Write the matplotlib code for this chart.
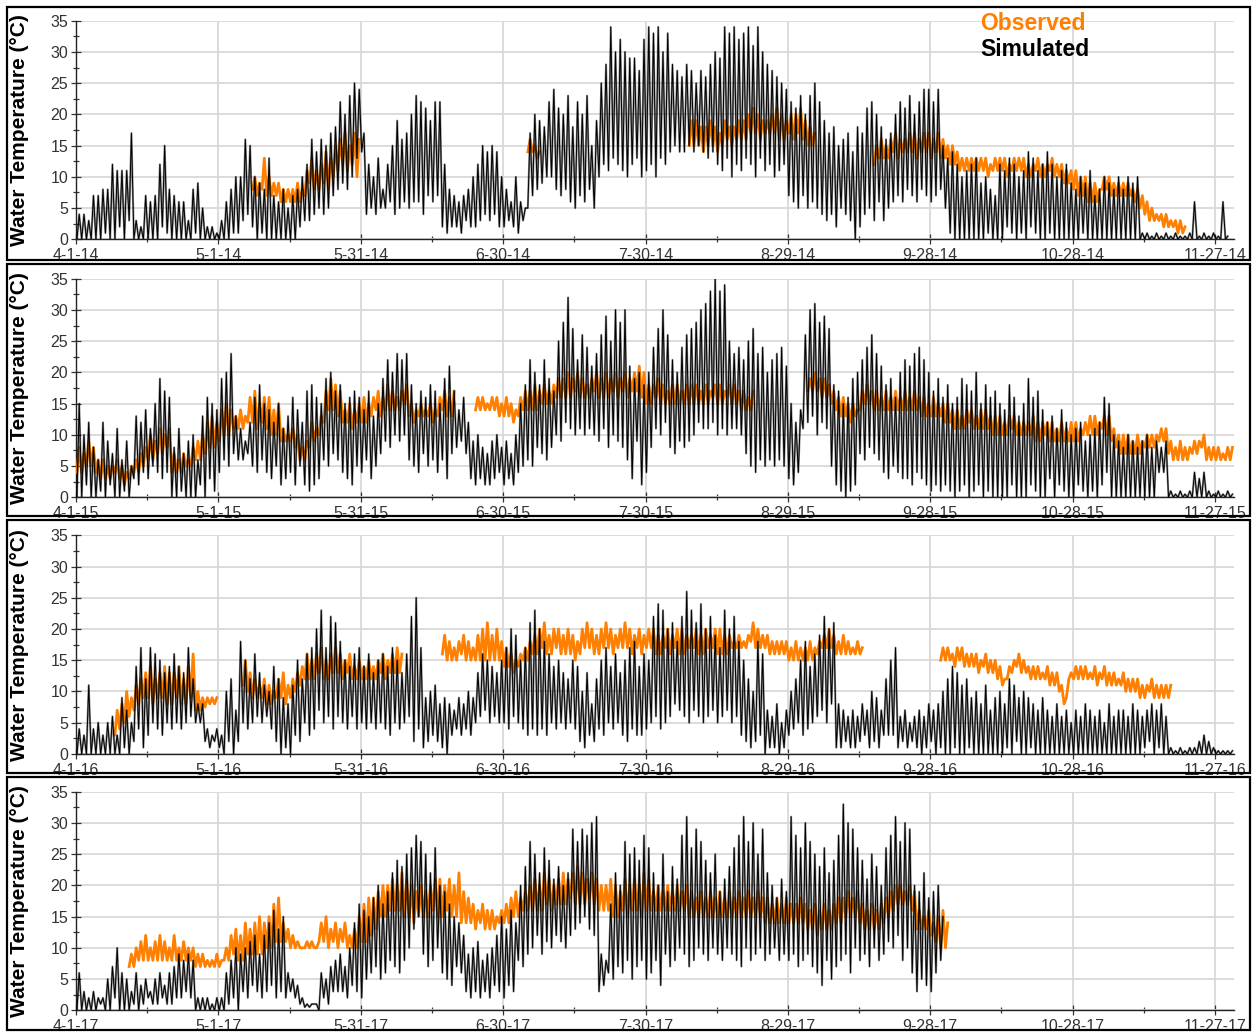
import numpy as np
import matplotlib
matplotlib.use('Agg')
import matplotlib.pyplot as plt
from matplotlib.patches import Rectangle

plt.rcParams['font.family'] = ['Liberation Sans', 'DejaVu Sans']

years = ['14', '15', '16', '17']
tick_days = [0, 30, 60, 90, 120, 150, 180, 210, 240]
tick_dates = ['4-1', '5-1', '5-31', '6-30', '7-30', '8-29', '9-28', '10-28', '11-27']

# daily max / min water temperature, day 0 = April 1
sim14_hi = [4,4,3,7,7,8,8,12,11,11, 11,17,3,2,7,6,7,12,15,8, 7,6,6,3,8,9,5,2,2,1,
            3,6,8,10,10,16,15,10,9,8, 13,7,6,8,5,7,8,10,12,16, 14,16,15,17,18,22,20,23,25,24,
            17,12,10,13,8,12,15,19,16,17, 20,23,22,21,19,22,22,12,8,7, 6,7,8,10,12,15,14,15,14,10,
            8,6,10,6,5,17,20,19,18,22, 24,21,20,23,18,22,20,23,15,19, 25,28,34,30,32,30,29,29,27,32,
            34,33,34,30,33,28,27,26,28,27, 25,27,26,28,30,29,34,33,34,32, 33,34,31,34,30,28,27,26,25,24,
            22,21,23,20,23,25,22,19,17,18, 15,16,17,14,18,17,21,22,20,18, 16,17,20,22,21,23,20,22,24,24,
            22,24,15,13,14,12,10,11,12,13, 9,10,8,7,12,11,13,12,10,11, 14,13,11,12,14,12,10,11,12,9,
            8,10,9,11,7,8,10,9,8,10, 8,10,9,10,1,1,0.5,1,0.5,1, 0.5,1,0.5,0.5,1,6,0.5,1,0.5,1,
            0.5,6,0.5]
sim14_lo = [0,0,0,0,0,0,1,0,0,2, 0,3,0,0,0,0,0,0,2,1, 0,0,0,0,0,1,0,0,0,0,
            0,0,0,1,1,3,4,2,0,1, 0,0,0,0,0,0,0,2,3,3, 4,5,4,5,7,8,9,8,10,13,
            14,4,5,4,5,5,6,4,5,6, 5,6,6,4,7,6,7,2,1,2, 2,1,3,2,2,3,4,3,4,2,
            2,3,2,1,3,5,7,8,9,10, 10,8,7,8,6,5,7,6,8,5, 10,12,11,13,12,11,10,12,13,10,
            11,12,10,13,12,14,15,14,14,15, 14,15,14,13,14,12,11,13,10,12, 11,13,12,10,13,11,12,10,11,12,
            7,6,5,7,5,6,5,4,3,4, 2,5,4,3,0,2,4,5,3,6, 3,5,6,7,6,8,7,6,8,7,
            6,7,8,5,1,0,0,0,0,0, 0,0,1,0,0,0,2,1,0,1, 0,2,1,0,0,1,0,0,0,0,
            0,0,1,0,0,0,0,0,0,0, 0,0,0,0,0,0,0,0,0,0, 0,0,0,0,0,0,0,0,0,0,
            0,0,0]
obs14_start = 37
obs14_hi = ([10,9,13,10,9,9,8,8,8,9,8,11,13,11,12,14,13,15,16,17,15,17,16] + [None] * 35 +
            [16,15,14] + [None] * 31 +
            [19,19,18,18,19,18,17,19,18,18, 19,19,20,21,20,19,19,20,21,20, 19,20,20,21,19,18,17] + [None] * 12 +
            [15,16,15,16,17,16,16,17,17,16,17,17, 16,17,16,15,15,14,13,13,13,13,
             13,13,12,13,13,13,12,13,13,13, 12,12,13,12,12,13,12,12,11,11,
             11,10,10,9,9,8,10,10,9,9, 9,9,8,8,7,6,5,4,4,4, 3,3,3,2])
obs14_lo = ([8,7,8,7,7,7,6,6,6,6,6,7,9,8,8,9,8,10,11,12,11,12,10] + [None] * 35 +
            [14,14,13] + [None] * 31 +
            [15,15,15,14,15,15,14,15,16,15, 16,16,16,17,17,16,17,17,17,16, 16,17,16,17,16,15,15] + [None] * 12 +
            [12,13,13,13,14,13,14,14,14,13,14,14, 13,14,13,13,12,12,11,11,11,11,
             11,11,10,11,11,11,10,11,11,11, 10,10,11,10,10,11,10,10,9,9,
             8,7,7,6,6,6,8,8,7,7, 7,7,7,6,5,4,3,3,3,2, 2,2,1,1])

sim15_hi = [15,10,12,8,6,12,9,7,11,6, 9,5,13,12,14,11,15,19,17,16, 8,11,7,9,10,6,13,16,15,14,
            19,20,23,13,11,9,12,16,18,15, 14,12,15,11,13,16,14,12,17,18, 16,15,19,20,17,18,15,16,17,16,
            14,17,13,15,19,22,20,23,22,23, 18,15,17,16,18,17,15,19,21,17, 14,16,12,9,10,8,7,9,10,8,
            9,7,10,15,18,22,20,18,22,19, 17,25,28,32,27,22,26,24,21,23, 26,29,25,30,28,30,21,19,20,18,
            20,24,27,30,26,22,20,24,26,27, 28,30,31,33,35,33,34,25,23,24, 22,25,27,23,24,20,22,23,24,21,
            15,12,14,26,30,31,28,29,27,18, 17,15,16,19,20,22,24,26,23,21, 18,19,16,20,22,21,23,24,22,20,
            17,19,16,18,15,16,19,18,17,20, 15,18,16,17,15,14,18,16,13,15, 19,16,17,14,12,13,11,14,12,10,
            11,12,9,10,11,12,16,15,10,9, 8,10,9,8,9,10,8,9,8,9, 1,0.5,1,0.5,1,4,3,4,1,0.5,
            1,0.5,1,0.5]
sim15_lo = [0,0,2,0,0,1,0,2,0,0, 1,0,3,2,4,3,5,4,3,4, 0,0,1,0,0,0,2,0,3,1,
            4,6,5,7,6,6,7,5,4,6, 4,3,5,2,3,4,2,5,2,1, 2,3,6,5,7,6,4,3,2,5,
            4,6,3,5,7,9,8,10,9,10, 6,5,4,7,5,6,4,6,3,7, 8,9,7,3,2,3,2,2,3,4,
            2,3,2,4,5,6,5,8,7,6, 8,10,9,12,11,10,11,10,11,10, 9,11,8,10,9,8,6,3,9,2,
            4,8,11,10,12,8,7,9,8,9, 10,12,11,11,12,10,11,10,11,11, 10,7,5,4,6,5,6,5,6,5,
            3,2,4,11,12,13,10,12,11,5, 2,1,0,1,2,7,6,8,7,6, 4,3,5,4,3,3,2,4,3,2,
            1,2,1,2,1,0,1,2,0,1, 2,0,1,0,0,0,0,2,0,0, 0,2,1,0,0,3,0,2,1,0,
            0,2,1,0,1,0,2,4,0,0, 0,0,0,0,0,0,0,0,4,4, 0,0,0,0,0,0,0,0,0,0,
            0,0,0,0]
obs15_start = 0
obs15_hi = ([8,7,9,8,6,6,5,5,6,5, 4,5,6,7,8,10,9,11,10,11, 7,6,7,6,8,9,10,12,13,12,
             14,15,14,13,14,13,16,17,15,16, 16,14,15,11,10,11,10,8,9,12, 11,13,17,19,18,17,14,15,14,15,
             16,15,16,17,16,18,17,16,17,18, 15,14,15,14,15,14,16,17,16,17] + [None] * 4 +
            [16,16,15,16,16,15, 16,15,14,16,17,17,18,17,18,17, 18,19,19,20,19,20,19,18,19,20,
             19,20,19,20,19,20,19,20,21,20, 18,18,19,18,17,18,18,17,18,18, 18,17,18,17,18,18,17,18,18,17,
             17,16,17] + [None] * 11 +
            [19,20,19,19,18,17, 16,16,15,15,14,17,18,17,17,16, 17,16,17,16,17,16,17,16,16,15,
             16,15,15,15,14,14,13,14,14,13, 14,14,13,13,13,12,13,13,12,12, 12,13,12,12,12,12,11,12,11,12,
             12,11,12,13,13,12,13,13,11,10, 10,10,9,10,9,10,10,10,11,11, 9,8,9,8,8,9,9,10,8,8,
             8,7,8,8])
obs15_lo = ([4,4,5,5,4,3,3,3,4,3, 2,3,4,4,5,6,6,7,7,8, 4,4,4,5,5,6,6,7,8,8,
             9,10,10,11,11,11,12,12,11,12, 11,10,10,9,9,9,8,6,6,8, 9,10,12,14,14,13,12,12,11,12,
             12,12,13,14,13,14,14,14,14,15, 13,12,13,13,13,12,13,14,13,13] + [None] * 4 +
            [14,14,14,14,14,13, 13,13,12,13,14,14,14,14,15,15, 15,16,16,16,16,17,16,16,16,17,
             16,16,16,17,16,17,16,17,17,16, 15,15,16,15,15,15,15,15,15,15, 15,15,15,15,16,15,15,16,15,15,
             14,14,14] + [None] * 11 +
            [17,17,17,16,16,15, 14,13,13,12,13,14,15,15,14,14, 14,14,14,14,14,14,14,14,13,13,
             13,13,13,12,12,11,11,11,12,11, 11,11,11,10,10,10,10,11,10,10, 10,10,9,9,10,9,9,9,9,9,
             9,9,10,10,10,10,11,10,9,8, 7,7,7,7,7,8,8,8,9,9, 7,6,6,6,6,7,7,8,6,6,
             6,6,6,6])

sim16_hi = [4,3,11,4,5,3,5,6,3,9, 7,5,14,17,12,17,16,15,13,14, 16,14,13,17,12,8,8,4,3,4,
            3,10,12,7,18,15,12,16,13,11, 10,14,12,9,8,11,15,12,16,17, 20,23,17,22,21,18,15,14,16,17,
            14,16,13,15,16,14,17,15,13,16, 22,25,17,9,10,11,8,9,8,7, 9,8,10,9,13,16,15,14,13,15,
            17,20,19,15,17,21,23,20,18,16, 14,15,13,12,15,14,10,13,8,12, 15,17,14,16,13,15,17,18,14,16,
            15,22,24,23,20,21,18,22,26,23, 21,24,20,22,19,17,23,20,22,18, 15,12,10,18,16,7,6,8,5,7,
            10,12,15,18,14,16,19,22,20,21, 8,7,6,7,6,8,7,10,9,7, 12,15,17,6,7,5,6,7,6,8,
            7,8,10,12,14,13,11,12,9,10, 8,11,7,9,10,8,12,11,9,10, 9,8,7,9,7,6,8,6,7,5,
            7,6,8,7,6,7,5,8,6,7, 7,6,8,7,6,7,8,7,8,6, 1,0.5,1,0.5,1,1,2,3,2,1,
            0.5,0.5,0.5,0.5]
sim16_lo = [0,0,0,0,0,0,0,0,0,0, 1,0,2,4,1,3,5,4,3,5, 4,5,4,5,6,5,5,2,1,2,
            1,0,2,0,2,5,4,5,6,5, 6,4,2,0,1,0,3,2,5,3, 4,7,5,6,4,6,5,4,6,4,
            5,4,5,4,5,4,3,5,4,5, 6,2,4,1,2,3,2,1,0,3, 4,3,4,3,5,6,7,5,6,5,
            5,4,6,5,4,3,4,3,4,3, 5,4,5,4,5,4,2,1,3,2, 4,3,5,4,5,3,2,4,3,3,
            4,5,6,4,5,6,8,7,6,5, 7,6,5,6,7,5,6,7,5,6, 3,2,1,2,3,0,1,1,0,1,
            3,4,5,3,4,5,6,7,5,8, 1,1,2,1,1,2,3,1,2,1, 3,3,3,1,2,1,2,1,0,1,
            2,0,1,0,0,1,0,0,1,0, 0,0,0,0,0,0,1,0,2,0, 0,1,0,0,0,0,0,0,0,0,
            0,0,0,0,0,0,0,0,0,0, 0,0,0,0,0,1,2,0,1,0, 0,0,0,0,0,0,0,0,0,0,
            0,0,0,0]
obs16_start = 8
obs16_hi = ([7,8,10,9,11,12,13,14,12,13,14,13,13,14,12,14,16,10,9,9,9,9] + [None] * 5 +
            [15,13,12,11,12,11,10,12,13,11, 12,13,14,16,15,16,17,15,16,17, 16,15,16,14,15,14,15,14,15,16,
             15,16,17,16] + [None] * 8 +
            [19,18,17,18,19,18,17,19,20,21, 19,20,18,17,16,15,16,17,18,19, 20,21,19,20,20,19,20,19,18,20,
             21,20,19,20,21,20,19,20,21,20, 19,20,19,20,20,19,19,20,19,20, 20,19,19,20,19,20,19,20,20,19,
             19,18,19,18,19,21,20,19,19,18, 18,18,18,17,18,17,17,18,17,18, 19,20,19,18,19,18,17,18,17] + [None] * 16 +
            [17,17,16,17,17,16,16,16,15,16, 15,15,14,12,14,15,16,15,14,14, 14,13,14,13,13,11,9,13,14,14,
             14,13,14,13,14,13,13,12,13,12, 12,12,11,11,12,11,11,11,11])
obs16_lo = ([3,4,5,6,7,8,9,9,8,9,9,8,8,9,8,8,9,7,7,7.5,8,8] + [None] * 5 +
            [11,10,9,9,9,8,8,9,9,8, 9,10,11,12,12,12,13,12,12,13, 13,12,13,12,12,12,12,12,12,13,
             12,13,13,13] + [None] * 8 +
            [16,15,15,15,16,15,15,15,15,15, 15,15,15,14,14,13,14,15,15,16, 16,17,16,16,17,16,16,16,15,16,
             17,17,16,16,17,17,16,17,17,17, 16,17,16,17,17,16,16,17,16,17, 16,16,17,17,16,16,17,17,16,16,
             16,17,17,17,17,18,17,17,17,16, 16,16,16,15,15,15,15,15,15,16, 17,17,17,16,16,16,16,16,16] + [None] * 16 +
            [15,15,15,14,15,14,14,14,13,14, 13,13,12,11,12,13,14,13,13,12, 12,12,12,11,11,10,8,12,12,12,
             12,12,12,11,12,11,11,11,11,10, 10,10,9,9,10,9,9,9,9])

sim17_hi = [6,3,2,3,2,2,5,7,10,6, 5,3,6,4,5,3,5,6,4,6, 7,9,8,9,8,2,2,2,1,2,
            2,6,8,10,9,10,11,12,9,12, 14,16,13,15,6,5,4,2,1,1, 1,6,5,7,8,9,7,10,14,17,
            16,15,18,20,17,19,22,24,23,25, 26,28,27,25,22,26,20,19,17,15, 14,12,9,10,11,8,9,10,12,15,
            13,16,14,20,23,27,25,22,26,24, 21,23,20,22,29,27,29,28,30,31, 9,8,17,22,20,27,25,26,24,28,
            26,22,20,25,19,23,21,28,31,26, 29,27,24,22,25,19,21,23,26,28, 31,27,30,25,29,22,20,18,21,19,
            31,28,26,30,27,25,23,26,22,24, 28,33,30,29,26,24,21,25,23,20, 26,28,31,27,30,29,20,19,22,18,
            19,20,15]
sim17_lo = [0,0,0,0,0,1,0,0,2,0, 0,0,1,0,1,2,1,1,2,1, 1,2,2,3,2,0,0,0,0,0,
            0,0,1,2,0,3,2,4,3,2, 3,4,2,3,2,3,2,1,0.5,0.5, 1,0,2,1,3,3,3,2,4,3,
            2,5,6,7,5,6,8,7,6,8, 10,13,15,9,7,8,10,6,5,4, 7,6,3,2,3,2,3,2,4,3,
            2,4,3,8,7,9,10,12,9,11, 10,12,11,10,12,13,14,15,13,12, 3,4,6,5,7,6,8,5,7,8,
            5,6,8,4,9,7,8,10,9,7, 8,10,9,8,10,9,8,10,9,8, 7,10,8,9,10,8,9,10,8,9,
            8,9,7,8,9,7,6,4,8,5, 7,8,9,6,10,8,9,7,10,8, 9,11,10,12,8,10,6,3,5,4,
            3,6,8]
obs17_start = 11
obs17_hi = [9,10,11,12,10,11,12,11,10,12, 10,11,10,10,9,9,8,8,9,8, 10,12,13,12,14,13,14,15,14,15,
            17,18,14,13,12,11,10,11,11,10, 14,15,13,14,13,14,12,13,15,17, 18,18,19,20,20,21,20,22,21,20,
            19,20,19,20,21,21,20,21,20,22, 19,18,17,16,17,16,16,15,16,17, 18,19,18,19,20,21,20,22,21,20,
            21,22,21,22,23,22,21,22,21,20, 20,21,20,19,21,20,21,20,22,21, 19,20,19,20,19,20,19,20,19,18,
            19,18,19,18,19,18,19,18,19,18, 19,18,19,18,18,17,18,17,18,17, 17,18,17,16,17,16,17,16,17,18,
            18,19,18,19,17,16,17,16,17,18, 19,20,20,19,20,19,16,15,16,14, 15,16,14]
obs17_lo = [7,7,8,8,8,8,8,8,8,8, 8,8,8,8,7,7,7,7,7,7, 8,8,9,8,8,9,9,9,9,10,
            10,11,11,11,10,10,10,10,10,10, 11,11,10,11,10,11,10,10,10,11, 11,12,13,15,15,16,16,16,15,15,
            14,15,15,15,16,15,15,16,15,15, 14,14,14,13,14,13,13,13,14,14, 14,15,15,16,16,16,16,16,17,16,
            17,17,17,18,17,17,17,18,17,16, 16,16,15,15,16,15,16,16,15,16, 16,16,16,16,16,16,16,16,15,15,
            15,15,15,15,15,15,15,15,15,15, 15,15,15,15,14,14,14,14,14,14, 14,14,14,13,13,12,13,13,13,14,
            14,15,15,15,14,13,13,13,13,14, 15,16,17,17,17,16,13,13,13,12, 11,10,10]

panels = [
    (sim14_hi, sim14_lo, obs14_start, obs14_hi, obs14_lo),
    (sim15_hi, sim15_lo, obs15_start, obs15_hi, obs15_lo),
    (sim16_hi, sim16_lo, obs16_start, obs16_hi, obs16_lo),
    (sim17_hi, sim17_lo, obs17_start, obs17_hi, obs17_lo),
]


def zigzag(start, hi, lo):
    # one low in the morning and one high in the afternoon for every day
    xs, ys = [], []
    for i, (h, l) in enumerate(zip(hi, lo)):
        d = start + i
        if h is None:
            xs.append(np.nan)
            ys.append(np.nan)
            continue
        xs += [d + 0.2, d + 0.68]
        ys += [l, h]
    return xs, ys


W, H = 1255, 1033
fig = plt.figure(figsize=(W / 100, H / 100), dpi=100)

axes_top = [20.7, 278.7, 535.3, 791.7]
frames = [(7, 260), (264, 516), (520, 773), (777, 1030)]
orange = '#ff8000'

for k, (s_hi, s_lo, o_start, o_hi, o_lo) in enumerate(panels):
    ft, fb = frames[k]
    fig.patches.append(Rectangle((7 / W, 1 - fb / H), (1250 - 7) / W, (fb - ft) / H,
                                 transform=fig.transFigure, fill=False,
                                 edgecolor='black', linewidth=1.6, zorder=0))

    top = axes_top[k]
    ax = fig.add_axes([76 / W, 1 - (top + 218.6) / H, 1158 / W, 218.6 / H])

    ox, oy = zigzag(o_start, o_hi, o_lo)
    ax.plot(ox, oy, color=orange, linewidth=2.0, zorder=3)
    sx, sy = zigzag(0, s_hi, s_lo)
    # soft grey body of the hourly trace, then the dark strokes
    ax.plot(sx, sy, color='black', alpha=0.45, linewidth=1.5, zorder=4)
    ax.plot(sx, sy, color='black', linewidth=0.7, zorder=5)

    ax.set_xlim(0, 244)
    ax.set_ylim(0, 35)
    ax.set_xticks(tick_days)
    ax.set_xticklabels([t + '-' + years[k] for t in tick_dates])
    ax.set_xticks([15, 45, 75, 105, 135, 165, 195, 225], minor=True)
    ax.set_yticks(range(0, 36, 5))
    ax.set_yticks(np.arange(2.5, 35, 5), minor=True)
    ax.grid(True, which='major', color='#d9d9d9', linewidth=1.3, zorder=0)
    ax.set_axisbelow(True)

    for side in ['top', 'right']:
        ax.spines[side].set_visible(False)
    for side in ['left', 'bottom']:
        ax.spines[side].set_color('#222222')
        ax.spines[side].set_linewidth(1.0)

    ax.tick_params(which='major', direction='inout', length=7, width=0.9, color='#333333',
                   labelsize=11.5, labelcolor='#333333')
    ax.tick_params(which='minor', direction='inout', length=4, width=0.9, color='#333333')
    ax.tick_params(axis='x', pad=3)
    ax.tick_params(axis='y', pad=2)

    ax.set_ylabel('Water Temperature (°C)', fontsize=15, fontweight='bold', color='black')
    ax.yaxis.set_label_coords(-0.041, 0.5)

fig.text(980 / W, 1 - 24 / H, 'Observed', color=orange, fontsize=16.5, fontweight='bold',
         ha='left', va='center')
fig.text(980 / W, 1 - 50 / H, 'Simulated', color='black', fontsize=16.5, fontweight='bold',
         ha='left', va='center')

fig.savefig('out.png', dpi=100)
